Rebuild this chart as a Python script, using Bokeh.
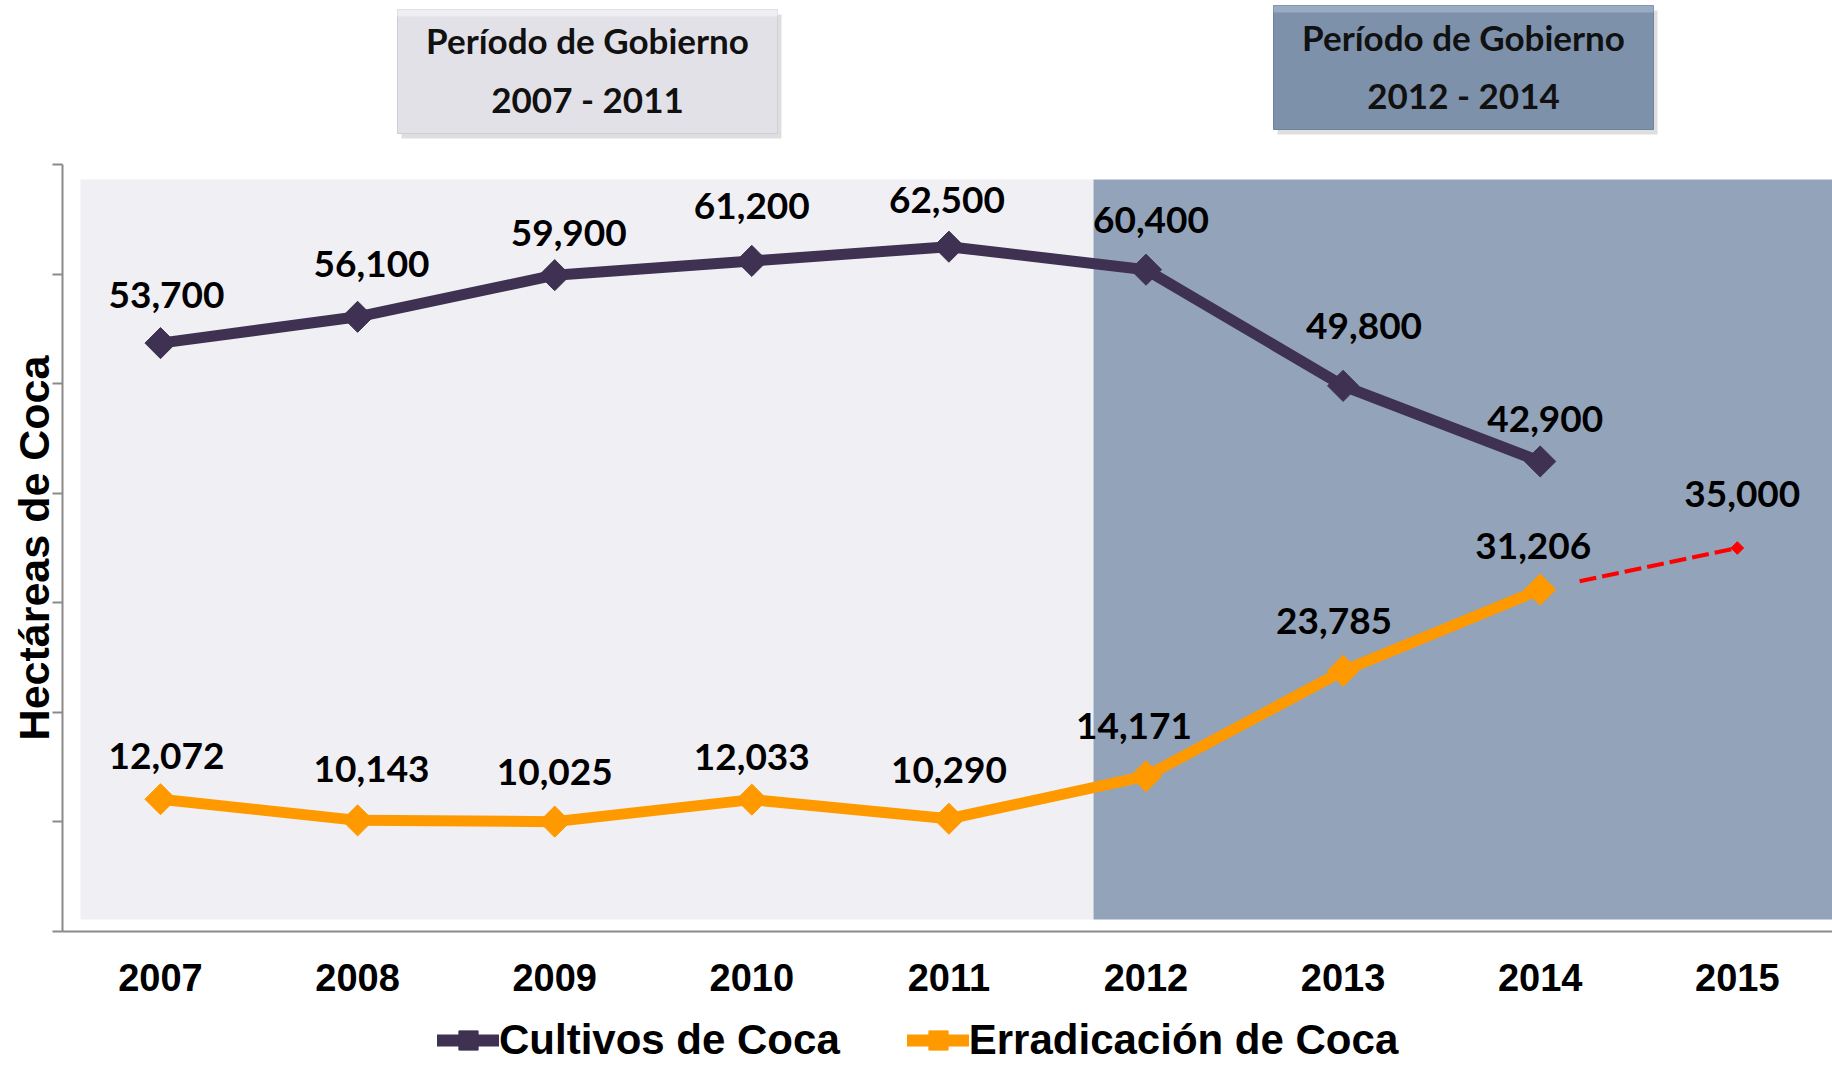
import numpy as np
from bokeh.plotting import figure
from bokeh.layouts import column
from bokeh.models import Range1d, FixedTicker, Legend, LegendItem
from bokeh.core.properties import value
from bokeh.embed import file_html
from bokeh.resources import INLINE

# ---------------- data ----------------
years = [2007, 2008, 2009, 2010, 2011, 2012, 2013, 2014]
cultivos = [53700, 56100, 59900, 61200, 62500, 60400, 49800, 42900]
erradicacion = [12072, 10143, 10025, 12033, 10290, 14171, 23785, 31206]
proj_years = [2014, 2015]
proj_values = [31206, 35000]
tick_years = [2007, 2008, 2009, 2010, 2011, 2012, 2013, 2014, 2015]
tick_labels = ["2007", "2008", "2009", "2010", "2011", "2012", "2013", "2014", "2015"]
y_ticks = [0, 10000, 20000, 30000, 40000, 50000, 60000, 70000]
period_titles = ["Período de Gobierno", "Período de Gobierno"]
period_spans = ["2007 - 2011", "2012 - 2014"]
series_names = ["Cultivos de Coca", "Erradicación de Coca"]

# label placement (screen px offsets from each point)
cult_dx = [6, 14, 14, 0, -2, 5, 21, 5]
cult_dy = [-48, -53, -42, -55, -47, -50, -60, -42]
err_dx = [6, 14, 0, 0, 0, -12, -9, -7]
err_dy = [-43, -51, -50, -43, -49, -50, -50, -44]
proj_dx, proj_dy = 5, -54

# ---------------- layout ----------------
W = 1832
LEFT = 62                     # frame left (page px)
T_TOP = 150                   # height of the header strip (period boxes)
C_TOP, C_FRAME, C_BOT = 14, 767, 85
C_H = C_TOP + C_FRAME + C_BOT
L_H = 49                      # legend strip
FRAME_B_PAGE = T_TOP + C_TOP + C_FRAME   # page y of value 0
PX_YEAR = 197.1
PX_UNIT = C_FRAME / 70000.0
X0 = 2007 - (160 - LEFT) / PX_YEAR
X1 = X0 + (W - LEFT) / PX_YEAR


def px_x(px):
    return X0 + (px - LEFT) / PX_YEAR


def px_y(py):
    return (FRAME_B_PAGE - py) / PX_UNIT


def top_y(py):
    return T_TOP - py


PURPLE = "#3f3151"
ORANGE = "#ff9900"
GRAY = "#8a8a8a"

xr = Range1d(X0, X1)


def base(fig):
    fig.outline_line_color = None
    fig.grid.visible = False
    fig.background_fill_color = "white"
    fig.border_fill_color = "white"


# ---------- header with period boxes ----------
top = figure(width=W, height=T_TOP, output_backend="svg", toolbar_location=None,
             x_range=xr, y_range=Range1d(0, T_TOP), x_axis_location=None,
             y_axis_location=None, min_border_left=LEFT, min_border_right=0,
             min_border_top=0, min_border_bottom=0)
base(top)
box_l = [px_x(397), px_x(1273)]
box_r = [px_x(777), px_x(1653)]
box_t = [top_y(9), top_y(5)]
box_b = [top_y(133), top_y(129)]
sh = 4
top.quad(left=[v + sh / PX_YEAR for v in box_l], right=[v + sh / PX_YEAR for v in box_r],
         top=[v - 5 for v in box_t], bottom=[v - 5 for v in box_b],
         fill_color="#b5b5b5", fill_alpha=0.45, line_color=None)
top.quad(left=box_l, right=box_r, top=box_t, bottom=box_b,
         fill_color=["#e3e1e8", "#7d91ab"], line_color=["#d0ced6", "#6f83a0"], line_width=1)
top.quad(left=box_l, right=box_r, top=box_t, bottom=[v - 7 for v in box_t],
         fill_color=["#efeef3", "#9aacc3"], line_color=None)
box_cx = [(a + b) / 2 for a, b in zip(box_l, box_r)]
hdr_kw = dict(text_align="center", text_baseline="middle", text_font=value("Lato"),
              text_font_style="bold", text_font_size="35px", text_color="#111111")
top.text(x=box_cx, y=[top_y(39.5), top_y(36.5)], text=period_titles, **hdr_kw)
top.text(x=box_cx, y=[top_y(98), top_y(94)], text=period_spans, **hdr_kw)

# ---------- main chart ----------
p = figure(width=W, height=C_H, output_backend="svg", toolbar_location=None,
           x_range=xr, y_range=Range1d(0, 70000),
           min_border_left=LEFT, min_border_right=0, min_border_top=C_TOP,
           min_border_bottom=C_BOT)
base(p)

band_left = [px_x(80), px_x(1093)]
band_right = [px_x(1093), X1 + 1]
p.quad(left=band_left, right=band_right, bottom=px_y(919), top=px_y(179),
       fill_color=["#f0eff4", "#93a3b9"], line_color=None)

r_c_line = p.line(years, cultivos, line_color=PURPLE, line_width=11, line_join="round")
r_c_mark = p.scatter(years, cultivos, marker="square", angle=np.pi / 4, size=22,
                     fill_color=PURPLE, line_color=PURPLE)
r_e_line = p.line(years, erradicacion, line_color=ORANGE, line_width=11, line_join="round")
r_e_mark = p.scatter(years, erradicacion, marker="square", angle=np.pi / 4, size=22,
                     fill_color=ORANGE, line_color=ORANGE)

# projection (dashed, starting a little after the 2014 point)
f = 0.2
sx0 = proj_years[0] + f * (proj_years[1] - proj_years[0])
sy0 = proj_values[0] + f * (proj_values[1] - proj_values[0])
p.line([sx0, proj_years[1]], [sy0, proj_values[1]], line_color="red", line_width=4,
       line_dash="17 6")
p.scatter([proj_years[1]], [proj_values[1]], marker="square", angle=np.pi / 4, size=9,
          fill_color="red", line_color="red")

lab_kw = dict(text_align="center", text_baseline="middle", text_font=value("Lato"),
              text_font_style="bold", text_font_size="37px", text_color="black")
p.text(x=years, y=cultivos, text=[f"{v:,}" for v in cultivos],
       x_offset=cult_dx, y_offset=cult_dy, **lab_kw)
p.text(x=years, y=erradicacion, text=[f"{v:,}" for v in erradicacion],
       x_offset=err_dx, y_offset=err_dy, **lab_kw)
p.text(x=[proj_years[1]], y=[proj_values[1]], text=[f"{proj_values[1]:,}"],
       x_offset=proj_dx, y_offset=proj_dy, **lab_kw)

xa = p.xaxis[0]
xa.ticker = FixedTicker(ticks=tick_years)
xa.major_label_overrides = {y: s for y, s in zip(tick_years, tick_labels)}
xa.major_tick_out = 0
xa.major_tick_in = 0
xa.minor_tick_out = 0
xa.minor_tick_in = 0
xa.axis_line_color = GRAY
xa.axis_line_width = 2
xa.major_label_standoff = 32
xa.major_label_text_font = "Liberation Sans"
xa.major_label_text_font_style = "bold"
xa.major_label_text_font_size = "38px"
xa.major_label_text_color = "black"

ya = p.yaxis[0]
ya.ticker = FixedTicker(ticks=y_ticks)
ya.major_label_overrides = {t: "" for t in y_ticks}
ya.major_tick_out = 10
ya.major_tick_in = 0
ya.minor_tick_out = 0
ya.minor_tick_in = 0
ya.axis_line_color = GRAY
ya.axis_line_width = 2
ya.major_tick_line_color = GRAY
ya.major_tick_line_width = 2
ya.major_label_standoff = 0
ya.axis_label = "Hectáreas de Coca"
ya.axis_label_text_font = "Liberation Sans"
ya.axis_label_text_font_style = "bold"
ya.axis_label_text_font_size = "43px"
ya.axis_label_text_color = "black"
ya.axis_label_standoff = -5

# ---------- legend strip ----------
leg = figure(width=W, height=L_H, output_backend="svg", toolbar_location=None,
             x_range=Range1d(0, 1), y_range=Range1d(0, 1), x_axis_location=None,
             y_axis_location=None, min_border_left=0, min_border_right=0,
             min_border_top=0, min_border_bottom=0)
base(leg)
nan = [float("nan")]
l_c_line = leg.line(nan, nan, line_color=PURPLE, line_width=12, line_cap="round")
l_c_mark = leg.scatter(nan, nan, marker="square", angle=np.pi / 4, size=22,
                       fill_color=PURPLE, line_color=PURPLE)
l_e_line = leg.line(nan, nan, line_color=ORANGE, line_width=12, line_cap="round")
l_e_mark = leg.scatter(nan, nan, marker="square", angle=np.pi / 4, size=22,
                       fill_color=ORANGE, line_color=ORANGE)
legend = Legend(items=[LegendItem(label=series_names[0], renderers=[l_c_line, l_c_mark]),
                       LegendItem(label=series_names[1], renderers=[l_e_line, l_e_mark])],
                orientation="horizontal", location=(375, 1))
legend.background_fill_alpha = 0
legend.border_line_alpha = 0
legend.padding = 0
legend.margin = 0
legend.spacing = 67
legend.glyph_width = 62
legend.glyph_height = 48
legend.label_height = 48
legend.label_standoff = 0
legend.label_text_font = "Liberation Sans"
legend.label_text_font_style = "bold"
legend.label_text_font_size = "42px"
legend.label_text_color = "black"
leg.add_layout(legend)

layout = column(top, p, leg, spacing=0)
open("out.html", "w").write(file_html(layout, INLINE))
